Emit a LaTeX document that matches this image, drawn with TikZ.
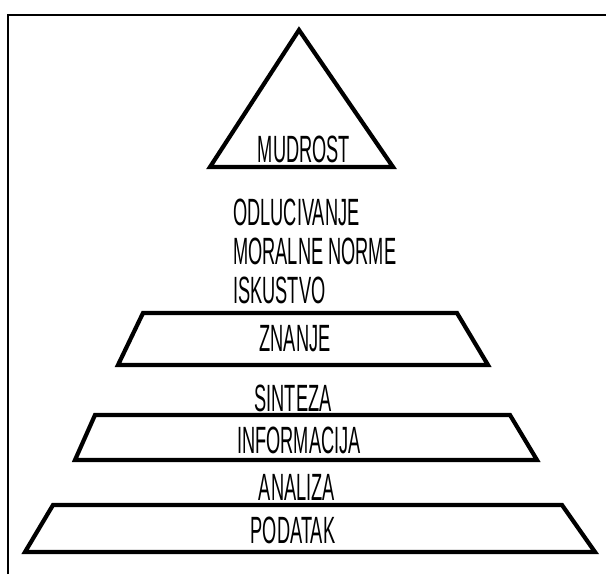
\documentclass[tikz,border=0pt]{standalone}
\usepackage{fontspec}
\setmainfont{Liberation Sans}
\usepackage{graphicx}
\newcommand{\lbltxt}[1]{\scalebox{0.48}[1]{#1}}
\begin{document}
\begin{tikzpicture}[x=1pt,y=-1pt,
  shapeline/.style={draw=black,line width=4.2pt,line join=miter},
  lbl/.style={inner sep=0pt,font=\fontsize{38}{44}\selectfont},
  frameline/.style={draw=black,line width=1.8pt}]
\useasboundingbox (0,0) rectangle (606,574);
% frame
\coordinate (f1) at (8,574);
\coordinate (f2) at (8,15);
\coordinate (f3) at (606,15);
\draw[frameline] (f1) -- (f2) -- (f3);
% shapes
\draw[shapeline] (299,30) -- (393,167) -- (210,167) -- cycle;
\draw[shapeline] (143,313) -- (457,313) -- (488,365) -- (118,365) -- cycle;
\draw[shapeline] (95,415) -- (510,415) -- (537,460) -- (75,460) -- cycle;
\draw[shapeline] (53,505) -- (562,505) -- (595,552) -- (25,552) -- cycle;
% labels
\node[lbl] (mud) at (304,149) {\lbltxt{MUDROST}};
\node[lbl,anchor=west] (odl) at (233,212) {\lbltxt{ODLUCIVANJE}};
\node[lbl,anchor=west] (mor) at (233,251) {\lbltxt{MORALNE NORME}};
\node[lbl,anchor=west] (isk) at (233,290) {\lbltxt{ISKUSTVO}};
\node[lbl] (zna) at (295,339) {\lbltxt{ZNANJE}};
\node[lbl] (sin) at (293,398) {\lbltxt{SINTEZA}};
\node[lbl] (inf) at (299,440) {\lbltxt{INFORMACIJA}};
\node[lbl] (ana) at (297,487) {\lbltxt{ANALIZA}};
\node[lbl] (pod) at (293,530) {\lbltxt{PODATAK}};
\end{tikzpicture}
\end{document}
